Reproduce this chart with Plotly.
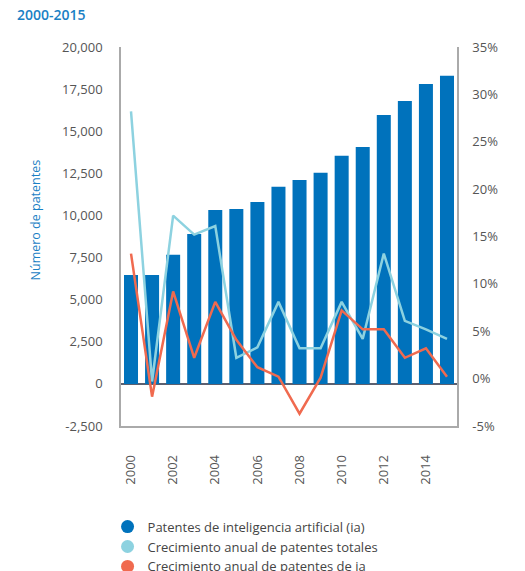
# Imports
import plotly.graph_objects as go

# Data
years = list(range(2000, 2016))
ia_patents = [6470, 6470, 7660, 8900, 10330, 10390, 10800, 11700,
              12110, 12530, 13540, 14070, 15970, 16800, 17810, 18290]
total_growth = [28.2, -0.3, 17.2, 15.2, 16.1, 2.2, 3.3, 8.1,
                3.2, 3.2, 8.1, 4.2, 13.2, 6.1, 5.2, 4.2]
ia_growth = [13.2, -1.9, 9.2, 2.2, 8.1, 4.1, 1.2, 0.2,
             -3.7, 0.1, 7.2, 5.2, 5.2, 2.2, 3.2, 0.2]

x_ticks = [2000, 2002, 2004, 2006, 2008, 2010, 2012, 2014]
left_ticks = [-2500, 0, 2500, 5000, 7500, 10000, 12500, 15000, 17500, 20000]
left_text = ["-2,500", "0", "2,500", "5,000", "7,500", "10,000",
             "12,500", "15,000", "17,500", "20,000"]
right_ticks = [-5, 0, 5, 10, 15, 20, 25, 30, 35]
right_text = ["-5%", "0%", "5%", "10%", "15%", "20%", "25%", "30%", "35%"]

names = ["Patentes de inteligencia artificial (ia)",
         "Crecimiento anual de patentes totales",
         "Crecimiento anual de patentes de ia"]
colors = ["#0072bc", "#8dd2e0", "#f06a4f"]

font = "Open Sans"
tick_color = "#555555"
title_color = "#1a80c4"

fig = go.Figure()

fig.add_trace(go.Bar(x=years, y=ia_patents, marker_color=colors[0],
                     marker_line_width=0, showlegend=False))
fig.add_trace(go.Scatter(x=years, y=total_growth, yaxis="y2", mode="lines",
                         line=dict(color=colors[1], width=2.5), showlegend=False))
fig.add_trace(go.Scatter(x=years, y=ia_growth, yaxis="y2", mode="lines",
                         line=dict(color=colors[2], width=2.5), showlegend=False))

# legend entries with round markers
for name, color in zip(names, colors):
    fig.add_trace(go.Scatter(x=[None], y=[None], mode="markers", name=name,
                             marker=dict(color=color, size=13, symbol="circle")))

# the page body adds 8px, so the plot area lands at 121..457 x 47..426 on screen
fig.update_layout(
    width=525, height=571,
    margin=dict(l=113, r=76, t=39, b=153, autoexpand=False),
    plot_bgcolor="white", paper_bgcolor="white",
    font=dict(family=font, size=13, color=tick_color),
    title=dict(text="2000-2015", xref="container", yref="container",
               x=9 / 525, xanchor="left", y=1 - 7 / 571, yanchor="middle",
               font=dict(size=14, color=title_color, family=font, weight=600)),
    bargap=0.335,
    legend=dict(x=-0.04, xanchor="left", y=-0.226, yanchor="top",
                font=dict(size=13, color="#444444"), itemwidth=30,
                tracegroupgap=0, bgcolor="rgba(0,0,0,0)"),
    # invisible long ticks push the year labels down
    xaxis=dict(range=[1999.525, 2015.475], tickmode="array", tickvals=x_ticks,
               tickangle=-90, showgrid=False, showline=True, linecolor="#aaaaaa",
               linewidth=1.5, ticks="outside", ticklen=22,
               tickcolor="rgba(0,0,0,0)",
               tickfont=dict(size=13, color=tick_color)),
    yaxis=dict(range=[-2500, 20000], tickmode="array", tickvals=left_ticks,
               ticktext=left_text, showgrid=False, showline=True,
               linecolor="#aaaaaa", linewidth=1.5, zeroline=True,
               zerolinecolor="#5c6070", zerolinewidth=2, ticks="",
               ticklabelstandoff=14),
    yaxis2=dict(range=[-5, 35], overlaying="y", side="right", tickmode="array",
                tickvals=right_ticks, ticktext=right_text, showgrid=False,
                showline=True, linecolor="#aaaaaa", linewidth=1.5,
                zeroline=False, ticks="", ticklabelstandoff=11),
)

fig.add_annotation(text="Número de patentes", xref="paper", yref="paper",
                   x=-0.256, y=0.545, textangle=-90, xanchor="center",
                   yanchor="middle", showarrow=False,
                   font=dict(size=12.5, color=title_color, family=font))
fig.add_annotation(text="Tasa anual de crecimiento", xref="paper", yref="paper",
                   x=1.278, y=0.596, textangle=90, xanchor="center",
                   yanchor="middle", showarrow=False,
                   font=dict(size=13.5, color=title_color, family=font))

fig.write_html("out.html")
